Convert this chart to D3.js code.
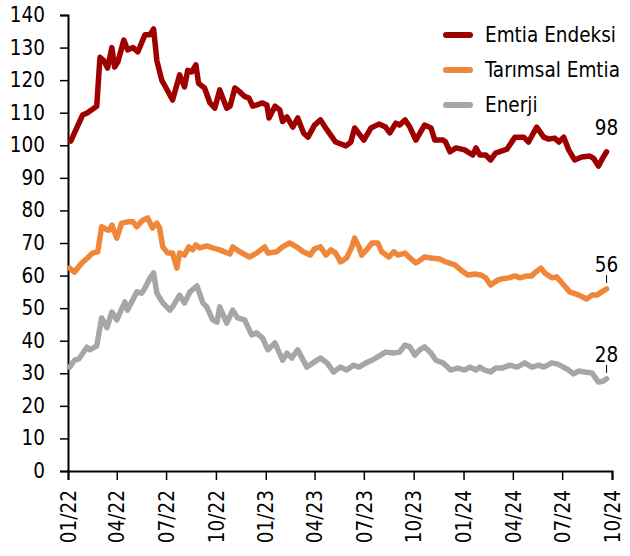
<!DOCTYPE html>
<html>

<head>
    <meta charset="utf-8">
    <title>Emtia</title>
    <script src="https://cdn.jsdelivr.net/npm/d3@7"></script>
    <style>
        body { margin: 0; background: #fff; }
        text { font-family: "DejaVu Sans Condensed", "DejaVu Sans", sans-serif; fill: #000; }
    </style>
</head>

<body>
    <svg width="630" height="556" id="mainsvg"></svg>
    <script>
        // series names and colours
        const seriesNames = ['Emtia Endeksi', 'Tarımsal Emtia', 'Enerji'];
        const seriesColors = ['#9e0000', '#f0863a', '#a6a6a6'];
        const endLabels = ['98', '56', '28'];
        const yTicks = [0, 10, 20, 30, 40, 50, 60, 70, 80, 90, 100, 110, 120, 130, 140];

        // Emtia Endeksi
        const emtiaDates = ['2022-01-06', '2022-01-28', '2022-02-06', '2022-02-23', '2022-03-01', '2022-03-08', '2022-03-15', '2022-03-23', '2022-03-28', '2022-04-03',
            '2022-04-14', '2022-04-21', '2022-05-01', '2022-05-10', '2022-05-23', '2022-06-01', '2022-06-08', '2022-06-14', '2022-06-23', '2022-07-01',
            '2022-07-13', '2022-07-26', '2022-08-04', '2022-08-10', '2022-08-17', '2022-08-25', '2022-08-30', '2022-09-10', '2022-09-20', '2022-09-29',
            '2022-10-08', '2022-10-21', '2022-10-27', '2022-11-05', '2022-11-14', '2022-11-23', '2022-12-01', '2022-12-08', '2022-12-26', '2023-01-03',
            '2023-01-07', '2023-01-18', '2023-01-27', '2023-02-01', '2023-02-09', '2023-02-20', '2023-03-01', '2023-03-12', '2023-03-20', '2023-04-01',
            '2023-04-12', '2023-04-24', '2023-05-10', '2023-05-29', '2023-06-07', '2023-06-14', '2023-07-01', '2023-07-14', '2023-07-29', '2023-08-10',
            '2023-08-18', '2023-08-29', '2023-09-05', '2023-09-15', '2023-09-24', '2023-10-05', '2023-10-21', '2023-11-02', '2023-11-09', '2023-11-24',
            '2023-11-29', '2023-12-07', '2023-12-18', '2024-01-03', '2024-01-18', '2024-01-24', '2024-01-31', '2024-02-11', '2024-02-20', '2024-02-29',
            '2024-03-12', '2024-03-21', '2024-04-05', '2024-04-21', '2024-04-30', '2024-05-15', '2024-05-28', '2024-06-06', '2024-06-17', '2024-06-25',
            '2024-07-04', '2024-07-13', '2024-07-24', '2024-08-06', '2024-08-21', '2024-08-28', '2024-09-06', '2024-09-15', '2024-09-21'];
        const emtiaValues = [101.3, 109.3, 110, 112, 127, 126, 123.7, 130, 124, 125.6,
            132.3, 129.3, 130, 128.7, 133.9, 133.9, 135.7, 126, 120, 117.6,
            113.9, 121.6, 117.9, 123, 122.5, 124.7, 119, 117.6, 113, 111.4,
            117, 111.4, 112, 117.6, 116.4, 115, 114.5, 112, 113, 112.4,
            108.4, 112, 110.8, 107.3, 108.7, 105.6, 108.4, 103.7, 102.5, 106.2,
            107.8, 104.7, 101, 99.8, 101, 105.3, 101.6, 105.3, 106.5, 105.6,
            103.8, 106.8, 106.2, 107.8, 105.6, 101.6, 106.2, 105.3, 101.6, 101.6,
            101, 98, 99.2, 98.6, 97, 99.2, 97, 97, 95.5, 97.6,
            98.3, 98.8, 102.5, 102.5, 101, 105.6, 102.5, 101.9, 102.2, 101,
            102.5, 98.6, 95.5, 96.4, 96.7, 96, 93.6, 96.4, 98];

        // Tarımsal Emtia
        const tarimDates = ['2022-01-04', '2022-01-13', '2022-01-26', '2022-02-06', '2022-02-15', '2022-02-25', '2022-03-04', '2022-03-14', '2022-03-19', '2022-03-23',
            '2022-04-01', '2022-04-10', '2022-04-21', '2022-05-01', '2022-05-08', '2022-05-19', '2022-05-28', '2022-06-06', '2022-06-14', '2022-06-19',
            '2022-06-25', '2022-07-04', '2022-07-13', '2022-07-21', '2022-07-26', '2022-08-04', '2022-08-12', '2022-08-19', '2022-08-25', '2022-09-01',
            '2022-09-14', '2022-09-25', '2022-10-08', '2022-10-27', '2022-11-01', '2022-11-14', '2022-12-02', '2022-12-15', '2022-12-30', '2023-01-05',
            '2023-01-21', '2023-02-01', '2023-02-14', '2023-02-27', '2023-03-11', '2023-03-24', '2023-04-01', '2023-04-12', '2023-04-22', '2023-05-01',
            '2023-05-10', '2023-05-19', '2023-05-30', '2023-06-09', '2023-06-14', '2023-06-22', '2023-06-27', '2023-07-06', '2023-07-16', '2023-07-27',
            '2023-08-03', '2023-08-16', '2023-08-25', '2023-09-02', '2023-09-15', '2023-09-24', '2023-10-05', '2023-10-14', '2023-10-21', '2023-11-02',
            '2023-11-18', '2023-11-29', '2023-12-16', '2023-12-27', '2024-01-09', '2024-01-22', '2024-02-02', '2024-02-11', '2024-02-20', '2024-03-04',
            '2024-03-12', '2024-03-25', '2024-04-05', '2024-04-14', '2024-04-27', '2024-05-06', '2024-05-11', '2024-05-23', '2024-05-30', '2024-06-12',
            '2024-06-21', '2024-07-04', '2024-07-15', '2024-08-01', '2024-08-15', '2024-08-25', '2024-09-03', '2024-09-12', '2024-09-21'];
        const tarimValues = [62.3, 61.1, 63.8, 65.4, 66.9, 67.3, 75, 74, 74, 75.5,
            71.5, 76.1, 76.5, 76.5, 75, 77, 77.7, 74.6, 76.1, 74.6,
            68.8, 66.9, 66.9, 62.3, 66.9, 66.3, 68.8, 67.9, 69.4, 68.5,
            69.1, 68.5, 67.9, 66.6, 68.8, 67.3, 65.7, 66.9, 68.8, 66.9,
            67.3, 68.8, 70, 68.8, 67.3, 66.3, 68.2, 68.8, 66.3, 67.9,
            66.9, 64.2, 65.4, 68.8, 71.5, 68.8, 66.3, 67.9, 70, 70,
            67.3, 65.7, 67.3, 66.3, 66.9, 65.4, 63.9, 64.8, 65.7, 65.4,
            65.1, 64.2, 63.3, 61.7, 60.2, 60.5, 60.2, 59.3, 57.1, 58.6,
            59, 59.3, 59.9, 59.3, 59.9, 59.9, 60.8, 62.3, 60.8, 59.3,
            59.6, 57.1, 55, 54, 52.8, 54, 54, 55, 55.9];

        // Enerji
        const enerjiDates = ['2022-01-04', '2022-01-13', '2022-01-21', '2022-02-05', '2022-02-10', '2022-02-23', '2022-03-04', '2022-03-14', '2022-03-23', '2022-04-01',
            '2022-04-16', '2022-04-21', '2022-05-08', '2022-05-17', '2022-05-23', '2022-06-01', '2022-06-08', '2022-06-14', '2022-06-25', '2022-07-08',
            '2022-07-13', '2022-07-26', '2022-08-04', '2022-08-14', '2022-08-27', '2022-09-07', '2022-09-14', '2022-09-25', '2022-10-03', '2022-10-08',
            '2022-10-21', '2022-11-01', '2022-11-10', '2022-11-23', '2022-12-06', '2022-12-15', '2022-12-26', '2023-01-05', '2023-01-18', '2023-02-01',
            '2023-02-09', '2023-02-18', '2023-03-01', '2023-03-18', '2023-04-01', '2023-04-12', '2023-04-24', '2023-05-06', '2023-05-19', '2023-05-30',
            '2023-06-12', '2023-06-22', '2023-07-05', '2023-07-16', '2023-08-01', '2023-08-10', '2023-08-25', '2023-09-05', '2023-09-15', '2023-09-24',
            '2023-10-03', '2023-10-12', '2023-10-21', '2023-11-02', '2023-11-11', '2023-11-24', '2023-12-08', '2023-12-21', '2024-01-03', '2024-01-13',
            '2024-01-24', '2024-01-31', '2024-02-09', '2024-02-20', '2024-02-29', '2024-03-12', '2024-03-26', '2024-04-09', '2024-04-23', '2024-05-06',
            '2024-05-19', '2024-05-28', '2024-06-12', '2024-06-21', '2024-06-30', '2024-07-13', '2024-07-22', '2024-08-01', '2024-08-12', '2024-08-25',
            '2024-09-06', '2024-09-15', '2024-09-21'];
        const enerjiValues = [31.9, 34, 34.4, 38, 37.2, 38.4, 47, 44, 48.8, 46.4,
            51.9, 49.4, 55, 54.6, 56.2, 59.2, 60.8, 54.6, 51.6, 49.4,
            50.4, 54, 51.6, 55, 56.8, 51.6, 50.4, 46.4, 45.7, 50.4,
            45.4, 49.4, 47, 46.4, 41.8, 42.4, 40.8, 37.2, 39.3, 34,
            36.2, 34.7, 37.2, 31.9, 33.5, 34.7, 33.2, 30.4, 31.9, 31,
            32.5, 31.9, 33.2, 34, 35.6, 36.5, 36.2, 36.5, 38.7, 38.1,
            35.6, 37.2, 38.1, 36.2, 34, 33.2, 31, 31.6, 31, 31.9,
            31, 31.9, 31, 30.4, 31.6, 31.6, 32.5, 31.9, 33.2, 31.9,
            32.5, 31.9, 33.2, 32.9, 32.2, 31, 29.8, 30.7, 30.4, 30.1,
            27.3, 27.6, 28.3];

        const svg = d3.select('#mainsvg');
        const width = +svg.attr('width');
        const height = +svg.attr('height');
        const margin = { top: 15, right: 18, bottom: 85, left: 68 };
        const fontSize = '20.5px';

        const parse = d3.timeParse('%Y-%m-%d');
        const allSeries = [
            emtiaDates.map((d, i) => ({ date: parse(d), value: emtiaValues[i] })),
            tarimDates.map((d, i) => ({ date: parse(d), value: tarimValues[i] })),
            enerjiDates.map((d, i) => ({ date: parse(d), value: enerjiValues[i] }))
        ];

        const xScale = d3.scaleTime()
            .domain([new Date(2022, 0, 1), new Date(2024, 9, 1)])
            .range([margin.left, width - margin.right]);
        const yScale = d3.scaleLinear()
            .domain([0, 140])
            .range([height - margin.bottom, margin.top]);

        // y axis
        const yAxis = d3.axisLeft(yScale).tickValues(yTicks).tickSize(8).tickPadding(15);
        const yAxisGroup = svg.append('g')
            .attr('transform', `translate(${margin.left}, 0)`)
            .call(yAxis);
        yAxisGroup.selectAll('text').attr('font-size', fontSize);

        // x axis, labels turned upright
        const xAxis = d3.axisBottom(xScale)
            .ticks(d3.timeMonth.every(3))
            .tickFormat(d3.timeFormat('%m/%y'))
            .tickSize(9);
        const xAxisGroup = svg.append('g')
            .attr('transform', `translate(0, ${height - margin.bottom})`)
            .call(xAxis);
        xAxisGroup.selectAll('text')
            .attr('font-size', fontSize)
            .attr('transform', 'rotate(-90)')
            .attr('text-anchor', 'end')
            .attr('x', -19)
            .attr('y', 0)
            .attr('dy', '0.35em');

        [yAxisGroup, xAxisGroup].forEach(ax => {
            ax.attr('font-family', null);
            ax.select('.domain').attr('stroke', '#000').attr('stroke-width', 2);
            ax.selectAll('.tick line').attr('stroke', '#000').attr('stroke-width', 1.5);
        });

        // lines, drawn bottom series first
        const line = d3.line()
            .x(d => xScale(d.date))
            .y(d => yScale(d.value));

        [2, 1, 0].forEach(i => {
            svg.append('path')
                .datum(allSeries[i])
                .attr('fill', 'none')
                .attr('stroke', seriesColors[i])
                .attr('stroke-width', 5.5)
                .attr('stroke-linejoin', 'round')
                .attr('stroke-linecap', 'round')
                .attr('d', line);
        });

        // end labels with small leader ticks
        allSeries.forEach((s, i) => {
            const last = s[s.length - 1];
            const px = xScale(last.date);
            const py = yScale(last.value);
            svg.append('text')
                .attr('x', px)
                .attr('y', py - 17)
                .attr('text-anchor', 'middle')
                .attr('font-size', fontSize)
                .text(endLabels[i]);
            if (i > 0) {
                svg.append('line')
                    .attr('x1', px).attr('x2', px)
                    .attr('y1', py - 14).attr('y2', py - 6)
                    .attr('stroke', '#000').attr('stroke-width', 1);
            }
        });

        // legend
        const legend = svg.append('g').attr('transform', 'translate(443, 35)');
        seriesNames.forEach((name, i) => {
            const row = legend.append('g').attr('transform', `translate(0, ${i * 35})`);
            row.append('line')
                .attr('x1', 3).attr('x2', 27)
                .attr('stroke', seriesColors[i])
                .attr('stroke-width', 6)
                .attr('stroke-linecap', 'round');
            row.append('text')
                .attr('x', 42)
                .attr('dy', '0.35em')
                .attr('font-size', fontSize)
                .text(name);
        });
    </script>
</body>

</html>
